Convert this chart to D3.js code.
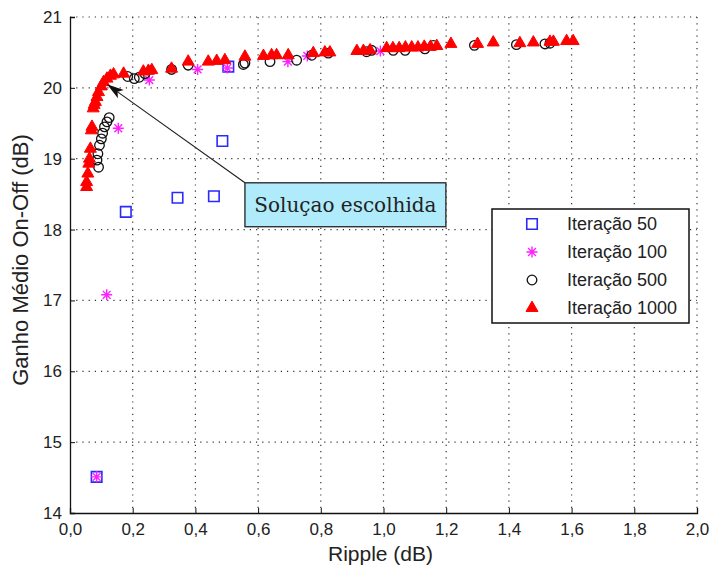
<!DOCTYPE html>
<html>
<head>
<meta charset="utf-8">
<script src="https://cdn.jsdelivr.net/npm/d3@7"></script>
<style>
body { margin: 0; background: #fff; }
#graph text { font-family: "Liberation Sans", Arial, sans-serif; fill: #222; }
</style>
</head>
<body>
<div id="graph"></div>
<script>
(function(){
"use strict";

// ticks
var xTicks = [0, 0.2, 0.4, 0.6, 0.8, 1.0, 1.2, 1.4, 1.6, 1.8, 2.0];
var yTicks = [14, 15, 16, 17, 18, 19, 20, 21];

// Iteração 50 (squares)
var it50x = [0.085, 0.178, 0.343, 0.459, 0.486, 0.505];
var it50y = [14.51, 18.25, 18.45, 18.47, 19.25, 20.30];

// Iteração 100 (stars)
var it100x = [0.085, 0.117, 0.154, 0.253, 0.407, 0.502, 0.695, 0.757, 0.99];
var it100y = [14.51, 17.08, 19.43, 20.11, 20.26, 20.28, 20.37, 20.45, 20.52];

// Iteração 500 (circles)
var it500x = [0.091, 0.086, 0.089, 0.094, 0.100, 0.104, 0.110, 0.118, 0.125,
	0.184, 0.205, 0.221, 0.239, 0.324, 0.377, 0.553, 0.558, 0.638, 0.723, 0.771,
	0.824, 0.946, 0.962, 1.031, 1.069, 1.132, 1.159, 1.290, 1.424, 1.515, 1.531];
var it500y = [18.88, 18.98, 19.07, 19.19, 19.28, 19.36, 19.45, 19.52, 19.58,
	20.16, 20.13, 20.15, 20.20, 20.26, 20.32, 20.33, 20.35, 20.37, 20.39, 20.46,
	20.49, 20.51, 20.53, 20.53, 20.53, 20.55, 20.60, 20.60, 20.61, 20.62, 20.63];

// Iteração 1000 (triangles)
var it1000x = [0.053, 0.053, 0.057, 0.060, 0.062, 0.065, 0.068, 0.070, 0.074, 0.077,
	0.081, 0.086, 0.091, 0.100, 0.107, 0.118, 0.129, 0.139, 0.171,
	0.234, 0.250, 0.261, 0.324, 0.377, 0.441, 0.468, 0.494, 0.558, 0.617, 0.643,
	0.659, 0.696, 0.776, 0.813, 0.829, 0.915, 0.936, 0.957, 1.010, 1.030, 1.050,
	1.070, 1.090, 1.110, 1.130, 1.150, 1.170, 1.215, 1.300, 1.350, 1.435, 1.478,
	1.531, 1.542, 1.584, 1.605];
var it1000y = [18.60, 18.67, 18.79, 18.93, 19.00, 19.14, 19.40, 19.45, 19.71, 19.76,
	19.80, 19.87, 19.94, 20.02, 20.08, 20.13, 20.17, 20.19, 20.20,
	20.23, 20.24, 20.25, 20.27, 20.37, 20.37, 20.38, 20.39, 20.44, 20.45, 20.46,
	20.46, 20.46, 20.49, 20.50, 20.50, 20.52, 20.52, 20.53, 20.56, 20.56, 20.56,
	20.57, 20.57, 20.57, 20.58, 20.58, 20.59, 20.62, 20.62, 20.64, 20.63, 20.64,
	20.65, 20.65, 20.66, 20.66];

var seriesNames = ["Iteração 50", "Iteração 100", "Iteração 500", "Iteração 1000"];

// annotation (data units): box corners and arrow tip
var noteText = "Soluçao escolhida";
var noteBox = [0.558, 18.66, 1.199, 18.04];
var noteTip = [0.118, 20.05];

var width = 711;
var height = 570;
var plot = {left: 70, right: 697, top: 17, bottom: 513};

var commaFmt = d3.formatLocale({decimal: ",", thousands: ".", grouping: [3], currency: ["", ""]}).format(".1f");

var x = d3.scaleLinear().domain([0, 2]).range([plot.left, plot.right]);
var y = d3.scaleLinear().domain([14, 21]).range([plot.bottom, plot.top]);

var svg = d3.select('#graph')
	.append('svg')
		.attr('width', width)
		.attr('height', height);

svg.append('rect').attr('width', width).attr('height', height).attr('fill', '#fff');

// dotted grid
var grid = svg.append('g').attr('class', 'grid');
grid.selectAll('line.gx')
	.data(xTicks.slice(1))
	.enter()
	.append('line')
		.attr('x1', function(d){ return x(d); })
		.attr('x2', function(d){ return x(d); })
		.attr('y1', plot.top)
		.attr('y2', plot.bottom)
		.attr('stroke', '#333')
		.attr('stroke-width', 1.2)
		.attr('stroke-dasharray', '1.2,5');
grid.selectAll('line.gy')
	.data(yTicks.slice(1))
	.enter()
	.append('line')
		.attr('x1', plot.left)
		.attr('x2', plot.right)
		.attr('y1', function(d){ return y(d); })
		.attr('y2', function(d){ return y(d); })
		.attr('stroke', '#333')
		.attr('stroke-width', 1.2)
		.attr('stroke-dasharray', '1.2,5');

// axes
var xAxis = d3.axisBottom(x).tickValues(xTicks).tickSize(-5).tickPadding(10).tickFormat(commaFmt);
var yAxis = d3.axisLeft(y).tickValues(yTicks).tickSize(-5).tickPadding(8).tickFormat(d3.format("d"));

var gx = svg.append('g')
	.attr('transform', 'translate(0,' + plot.bottom + ')')
	.call(xAxis);
var gy = svg.append('g')
	.attr('transform', 'translate(' + plot.left + ',0)')
	.call(yAxis);
[gx, gy].forEach(function(g){
	g.select('.domain').attr('stroke', '#111').attr('stroke-width', 1.3);
	g.selectAll('.tick line').attr('stroke', '#111');
	g.selectAll('.tick text').style('font-size', '17px').attr('fill', '#333');
});

svg.append('text')
	.attr('x', (plot.left + plot.right) / 2 - 3)
	.attr('y', 561)
	.attr('text-anchor', 'middle')
	.style('font-size', '21px')
	.text('Ripple (dB)');

svg.append('text')
	.attr('transform', 'translate(28,' + ((plot.top + plot.bottom) / 2 - 5) + ') rotate(-90)')
	.attr('text-anchor', 'middle')
	.style('font-size', '22px')
	.text('Ganho Médio On-Off (dB)');

// markers
function starPath(r){
	var p = "";
	for (var i = 0; i < 4; i++) {
		var a = i * Math.PI / 4;
		var dx = r * Math.cos(a), dy = r * Math.sin(a);
		p += "M" + (-dx) + "," + (-dy) + "L" + dx + "," + dy;
	}
	return p;
}
var squarePath = d3.symbol().type(d3.symbolSquare).size(110)();
var trianglePath = d3.symbol().type(d3.symbolTriangle).size(62)();

function zip(xs, ys){
	return xs.map(function(d, i){ return [d, ys[i]]; });
}

var marks = svg.append('g').attr('class', 'marks');

marks.selectAll('path.sq')
	.data(zip(it50x, it50y))
	.enter()
	.append('path')
		.attr('d', squarePath)
		.attr('transform', function(d){ return 'translate(' + x(d[0]) + ',' + y(d[1]) + ')'; })
		.attr('fill', 'none')
		.attr('stroke', '#2a2aff')
		.attr('stroke-width', 1.6);

marks.selectAll('path.st')
	.data(zip(it100x, it100y))
	.enter()
	.append('path')
		.attr('d', starPath(5.5))
		.attr('transform', function(d){ return 'translate(' + x(d[0]) + ',' + y(d[1]) + ')'; })
		.attr('fill', 'none')
		.attr('stroke', '#ff20ff')
		.attr('stroke-width', 1.4);

marks.selectAll('circle')
	.data(zip(it500x, it500y))
	.enter()
	.append('circle')
		.attr('cx', function(d){ return x(d[0]); })
		.attr('cy', function(d){ return y(d[1]); })
		.attr('r', 4.8)
		.attr('fill', 'none')
		.attr('stroke', '#111')
		.attr('stroke-width', 1.3);

marks.selectAll('path.tr')
	.data(zip(it1000x, it1000y))
	.enter()
	.append('path')
		.attr('d', trianglePath)
		.attr('transform', function(d){ return 'translate(' + x(d[0]) + ',' + y(d[1]) + ')'; })
		.attr('fill', '#ff0000')
		.attr('stroke', '#ff0000')
		.attr('stroke-width', 1);

// annotation: arrow + box
var bx0 = x(noteBox[0]), by0 = y(noteBox[1]), bx1 = x(noteBox[2]), by1 = y(noteBox[3]);
var tx = x(noteTip[0]), ty = y(noteTip[1]);
var ang = Math.atan2(ty - by0, tx - bx0);
var L = 17, W = 5;
var backX = tx - L * Math.cos(ang), backY = ty - L * Math.sin(ang);
svg.append('line')
	.attr('x1', bx0).attr('y1', by0)
	.attr('x2', backX + 4 * Math.cos(ang)).attr('y2', backY + 4 * Math.sin(ang))
	.attr('stroke', '#222')
	.attr('stroke-width', 1.2);
svg.append('path')
	.attr('d', 'M' + tx + ',' + ty +
		'L' + (backX - W * Math.sin(ang)) + ',' + (backY + W * Math.cos(ang)) +
		'L' + (backX + 4 * Math.cos(ang)) + ',' + (backY + 4 * Math.sin(ang)) +
		'L' + (backX + W * Math.sin(ang)) + ',' + (backY - W * Math.cos(ang)) + 'Z')
	.attr('fill', '#111');

svg.append('rect')
	.attr('x', bx0).attr('y', by0)
	.attr('width', bx1 - bx0).attr('height', by1 - by0)
	.attr('fill', '#b0ebfb')
	.attr('stroke', '#222')
	.attr('stroke-width', 1.3);
svg.append('text')
	.attr('x', (bx0 + bx1) / 2)
	.attr('y', (by0 + by1) / 2 + 7)
	.attr('text-anchor', 'middle')
	.style('font-family', '"DejaVu Serif", serif')
	.style('font-size', '20px')
	.text(noteText);

// legend
var legend = svg.append('g').attr('transform', 'translate(492,209)');
legend.append('rect')
	.attr('width', 197).attr('height', 114)
	.attr('fill', '#fff')
	.attr('stroke', '#111')
	.attr('stroke-width', 1.5);
var row = legend.selectAll('g.row')
	.data(seriesNames)
	.enter()
	.append('g')
		.attr('transform', function(d, i){ return 'translate(0,' + (15 + i * 28) + ')'; });
row.append('text')
	.attr('x', 75)
	.attr('dy', '0.35em')
	.style('font-size', '18px')
	.text(function(d){ return d; });
row.each(function(d, i){
	var g = d3.select(this).append('g').attr('transform', 'translate(40,0)');
	if (i === 0) {
		g.append('path').attr('d', squarePath).attr('fill', 'none').attr('stroke', '#2a2aff').attr('stroke-width', 1.6);
	} else if (i === 1) {
		g.append('path').attr('d', starPath(5.5)).attr('fill', 'none').attr('stroke', '#ff20ff').attr('stroke-width', 1.4);
	} else if (i === 2) {
		g.append('circle').attr('r', 4.8).attr('fill', 'none').attr('stroke', '#111').attr('stroke-width', 1.3);
	} else {
		g.append('path').attr('d', trianglePath).attr('fill', '#ff0000').attr('stroke', '#ff0000');
	}
});

})();
</script>
</body>
</html>
